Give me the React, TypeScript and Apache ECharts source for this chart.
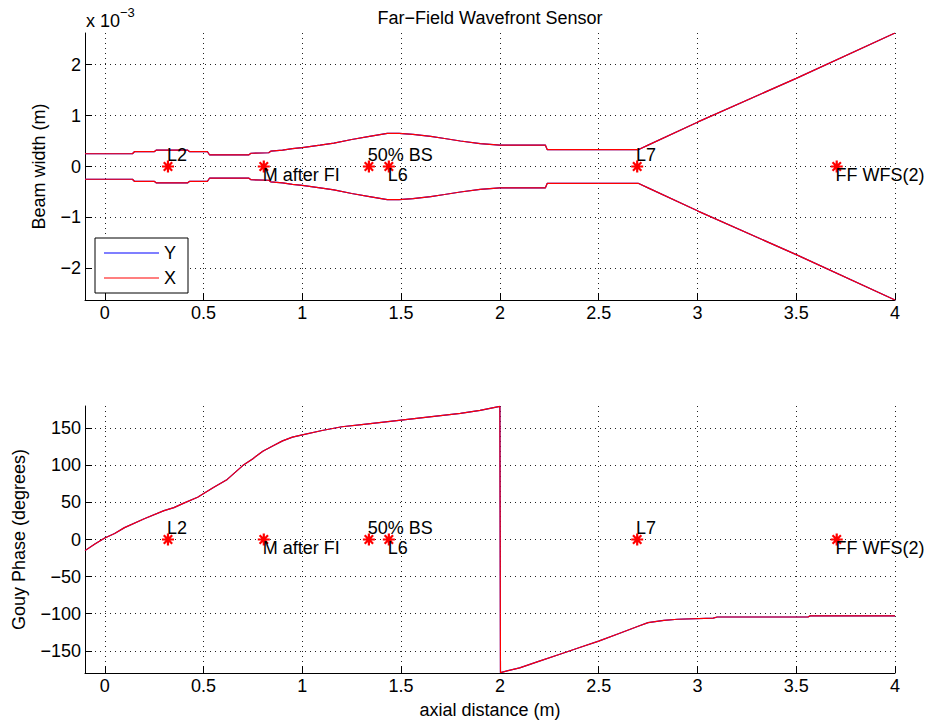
import React, { useEffect, useRef } from "react";
import * as echarts from "echarts";

// ---------- data ----------
// Beam width (units of 1e-3 m) along axial distance (m)
const beamZ = [
  -0.1, 0.14, 0.15, 0.25, 0.26, 0.42, 0.43, 0.52, 0.53, 0.73, 0.74, 0.83, 0.84,
  0.9, 0.95, 1.0, 1.09, 1.16, 1.25, 1.34, 1.43, 1.49, 1.56, 1.65, 1.72, 1.8,
  1.9, 2.0, 2.23, 2.24, 2.7, 2.75, 3.0, 3.5, 4.0,
];
const beamUpper = [
  0.25, 0.25, 0.29, 0.29, 0.32, 0.32, 0.29, 0.29, 0.23, 0.23, 0.26, 0.27, 0.3,
  0.32, 0.35, 0.37, 0.42, 0.46, 0.53, 0.59, 0.65, 0.65, 0.63, 0.59, 0.55, 0.5,
  0.45, 0.42, 0.42, 0.33, 0.33, 0.42, 0.87, 1.73, 2.62,
];
const beamLower = [
  -0.25, -0.25, -0.29, -0.29, -0.32, -0.32, -0.29, -0.29, -0.23, -0.23, -0.26,
  -0.27, -0.3, -0.32, -0.35, -0.37, -0.42, -0.46, -0.53, -0.59, -0.65, -0.65,
  -0.63, -0.59, -0.55, -0.5, -0.45, -0.42, -0.42, -0.33, -0.33, -0.42, -0.87,
  -1.73, -2.62,
];

// Gouy phase (degrees) along axial distance (m)
const gouyZ = [
  -0.1, -0.05, 0.0, 0.05, 0.1, 0.2, 0.3, 0.35, 0.4, 0.47, 0.55, 0.62, 0.7,
  0.75, 0.8, 0.85, 0.9, 0.95, 1.0, 1.1, 1.2, 1.3, 1.4, 1.5, 1.6, 1.7, 1.8, 1.9,
  2.0, 2.003, 2.1, 2.2, 2.3, 2.4, 2.5, 2.6, 2.7, 2.75, 2.83, 2.9, 3.08, 3.1,
  3.56, 3.57, 4.0,
];
const gouyPhase = [
  -15, -6, 2, 8, 16, 28, 39, 43, 49, 57, 70, 81, 100, 109, 119, 126, 133, 138,
  141, 147, 152, 155, 158, 161, 164, 167, 170, 174, 179.5, -179.5, -173, -164,
  -155, -146, -137, -127, -117, -112, -109, -107.5, -106, -104.5, -104.5, -103,
  -103,
];

// Optical components (axial position, m)
const markerZ = [0.32, 0.805, 1.337, 1.438, 2.695, 3.705];
const markerNames = ["L2", "M after FI", "50% BS", "L6", "L7", "FF WFS(2)"];
const markerLabelAbove = [true, false, true, false, true, false];

const seriesNames = ["Y", "X"];

// ---------- style ----------
const FONT = "Liberation Sans";
const FS = 18;
const COLORS: Record<string, string> = { Y: "#0000ff", X: "#ff0000" };
const ASTERISK = "path://M5,0L5,10M0,5L10,5M1.5,1.5L8.5,8.5M8.5,1.5L1.5,8.5";
const MSIZE = 12;

const minus = (v: number) => String(v).replace("-", "\u2212");

function pairs(xs: number[], ys: number[]) {
  return xs.map((x, i) => [x, ys[i]]);
}

const gridLine = { color: "#222", type: [1, 4], width: 1 };

function xAxis(gridIndex: number, withName: boolean) {
  return {
    type: "value",
    gridIndex,
    min: -0.1,
    max: 4,
    splitNumber: 8,
    name: withName ? "axial distance (m)" : "",
    nameLocation: "middle",
    nameGap: 28,
    nameTextStyle: { fontFamily: FONT, fontSize: FS, color: "#000" },
    axisLine: { onZero: false, lineStyle: { color: "#000", width: 1 } },
    axisTick: { inside: true, length: 7, lineStyle: { color: "#000" } },
    axisLabel: {
      showMinLabel: false,
      color: "#000",
      fontFamily: FONT,
      fontSize: FS,
      margin: 4,
      formatter: minus,
    },
    splitLine: { show: true, showMinLine: false, lineStyle: gridLine },
  };
}

function yAxis(
  gridIndex: number,
  min: number,
  max: number,
  splitNumber: number,
  name: string,
  nameGap: number
) {
  return {
    type: "value",
    gridIndex,
    min,
    max,
    splitNumber,
    name,
    nameLocation: "middle",
    nameGap,
    nameTextStyle: { fontFamily: FONT, fontSize: FS, color: "#000" },
    axisLine: { show: true, onZero: false, lineStyle: { color: "#000", width: 1 } },
    axisTick: { show: true, inside: true, length: 7, lineStyle: { color: "#000" } },
    axisLabel: {
      showMinLabel: false,
      showMaxLabel: false,
      color: "#000",
      fontFamily: FONT,
      fontSize: FS,
      margin: 4,
      formatter: minus,
    },
    splitLine: {
      show: true,
      showMinLine: false,
      showMaxLine: false,
      lineStyle: gridLine,
    },
  };
}

function lineSeries(name: string, idx: number, xs: number[], ys: number[]) {
  return {
    type: "line",
    name,
    xAxisIndex: idx,
    yAxisIndex: idx,
    data: pairs(xs, ys),
    symbol: "none",
    showSymbol: false,
    lineStyle: { color: COLORS[name], width: 1.2 },
    itemStyle: { color: COLORS[name] },
    z: name === "X" ? 3 : 2,
    animation: false,
  };
}

function markerSeries(idx: number) {
  return {
    type: "scatter",
    xAxisIndex: idx,
    yAxisIndex: idx,
    symbol: ASTERISK,
    symbolSize: MSIZE,
    z: 5,
    itemStyle: {
      color: "transparent",
      borderColor: "#ff0000",
      borderWidth: 2.2,
      opacity: 1,
    },
    label: {
      show: true,
      formatter: "{b}",
      color: "#000",
      opacity: 1,
      textBorderWidth: 0,
      fontFamily: FONT,
      fontSize: FS,
      align: "left",
      verticalAlign: "middle",
    },
    data: markerZ.map((z, i) => ({
      value: [z, 0],
      name: markerNames[i],
      label: {
        position: [MSIZE / 2, MSIZE / 2 + (markerLabelAbove[i] ? -10 : 10)],
      },
    })),
    animation: false,
  };
}

export default function App() {
  const ref = useRef<HTMLDivElement>(null);
  useEffect(() => {
    if (!ref.current) return;
    const chart = echarts.init(ref.current, undefined, { renderer: "svg" });
    const series: any[] = [];
    [0, 1].forEach((idx) => {
      seriesNames.forEach((name) => {
        if (idx === 0) {
          series.push(lineSeries(name, 0, beamZ, beamUpper));
          series.push(lineSeries(name, 0, beamZ, beamLower));
        } else {
          series.push(lineSeries(name, 1, gouyZ, gouyPhase));
        }
      });
      series.push(markerSeries(idx));
    });
    chart.setOption({
      animation: false,
      backgroundColor: "#fff",
      grid: [
        { left: 85, right: 38, top: 33, height: 267 },
        { left: 85, right: 38, top: 406, height: 267 },
      ],
      xAxis: [xAxis(0, false), xAxis(1, true)],
      yAxis: [
        yAxis(0, -2.62, 2.62, 5, "Beam width (m)", 37),
        yAxis(1, -180, 180, 7, "Gouy Phase (degrees)", 57),
      ],
      legend: {
        data: seriesNames,
        orient: "vertical",
        left: 95,
        top: 238,
        padding: [6, 12, 6, 9],
        itemGap: 7,
        itemWidth: 55,
        itemHeight: 1,
        icon: "rect",
        borderColor: "#000",
        borderWidth: 1,
        backgroundColor: "#fff",
        selectedMode: false,
        textStyle: { fontFamily: FONT, fontSize: FS, color: "#000" },
      },
      graphic: [
        {
          type: "text",
          x: 490,
          y: 17.5,
          style: {
            text: "Far\u2212Field Wavefront Sensor",
            font: `${FS}px "${FONT}"`,
            fill: "#000",
            align: "center",
            verticalAlign: "middle",
          },
        },
        {
          type: "text",
          x: 86,
          y: 21,
          style: {
            text: "x 10",
            font: `${FS}px "${FONT}"`,
            fill: "#000",
            align: "left",
            verticalAlign: "middle",
          },
        },
        {
          type: "text",
          x: 120,
          y: 12.5,
          style: {
            text: "\u22123",
            font: `13px "${FONT}"`,
            fill: "#000",
            align: "left",
            verticalAlign: "middle",
          },
        },
      ],
      series,
    });
    return () => chart.dispose();
  }, []);
  return (
    <div
      ref={ref}
      style={{
        position: "absolute",
        left: 0,
        top: 0,
        width: 933,
        height: 726,
        background: "#fff",
      }}
    />
  );
}
